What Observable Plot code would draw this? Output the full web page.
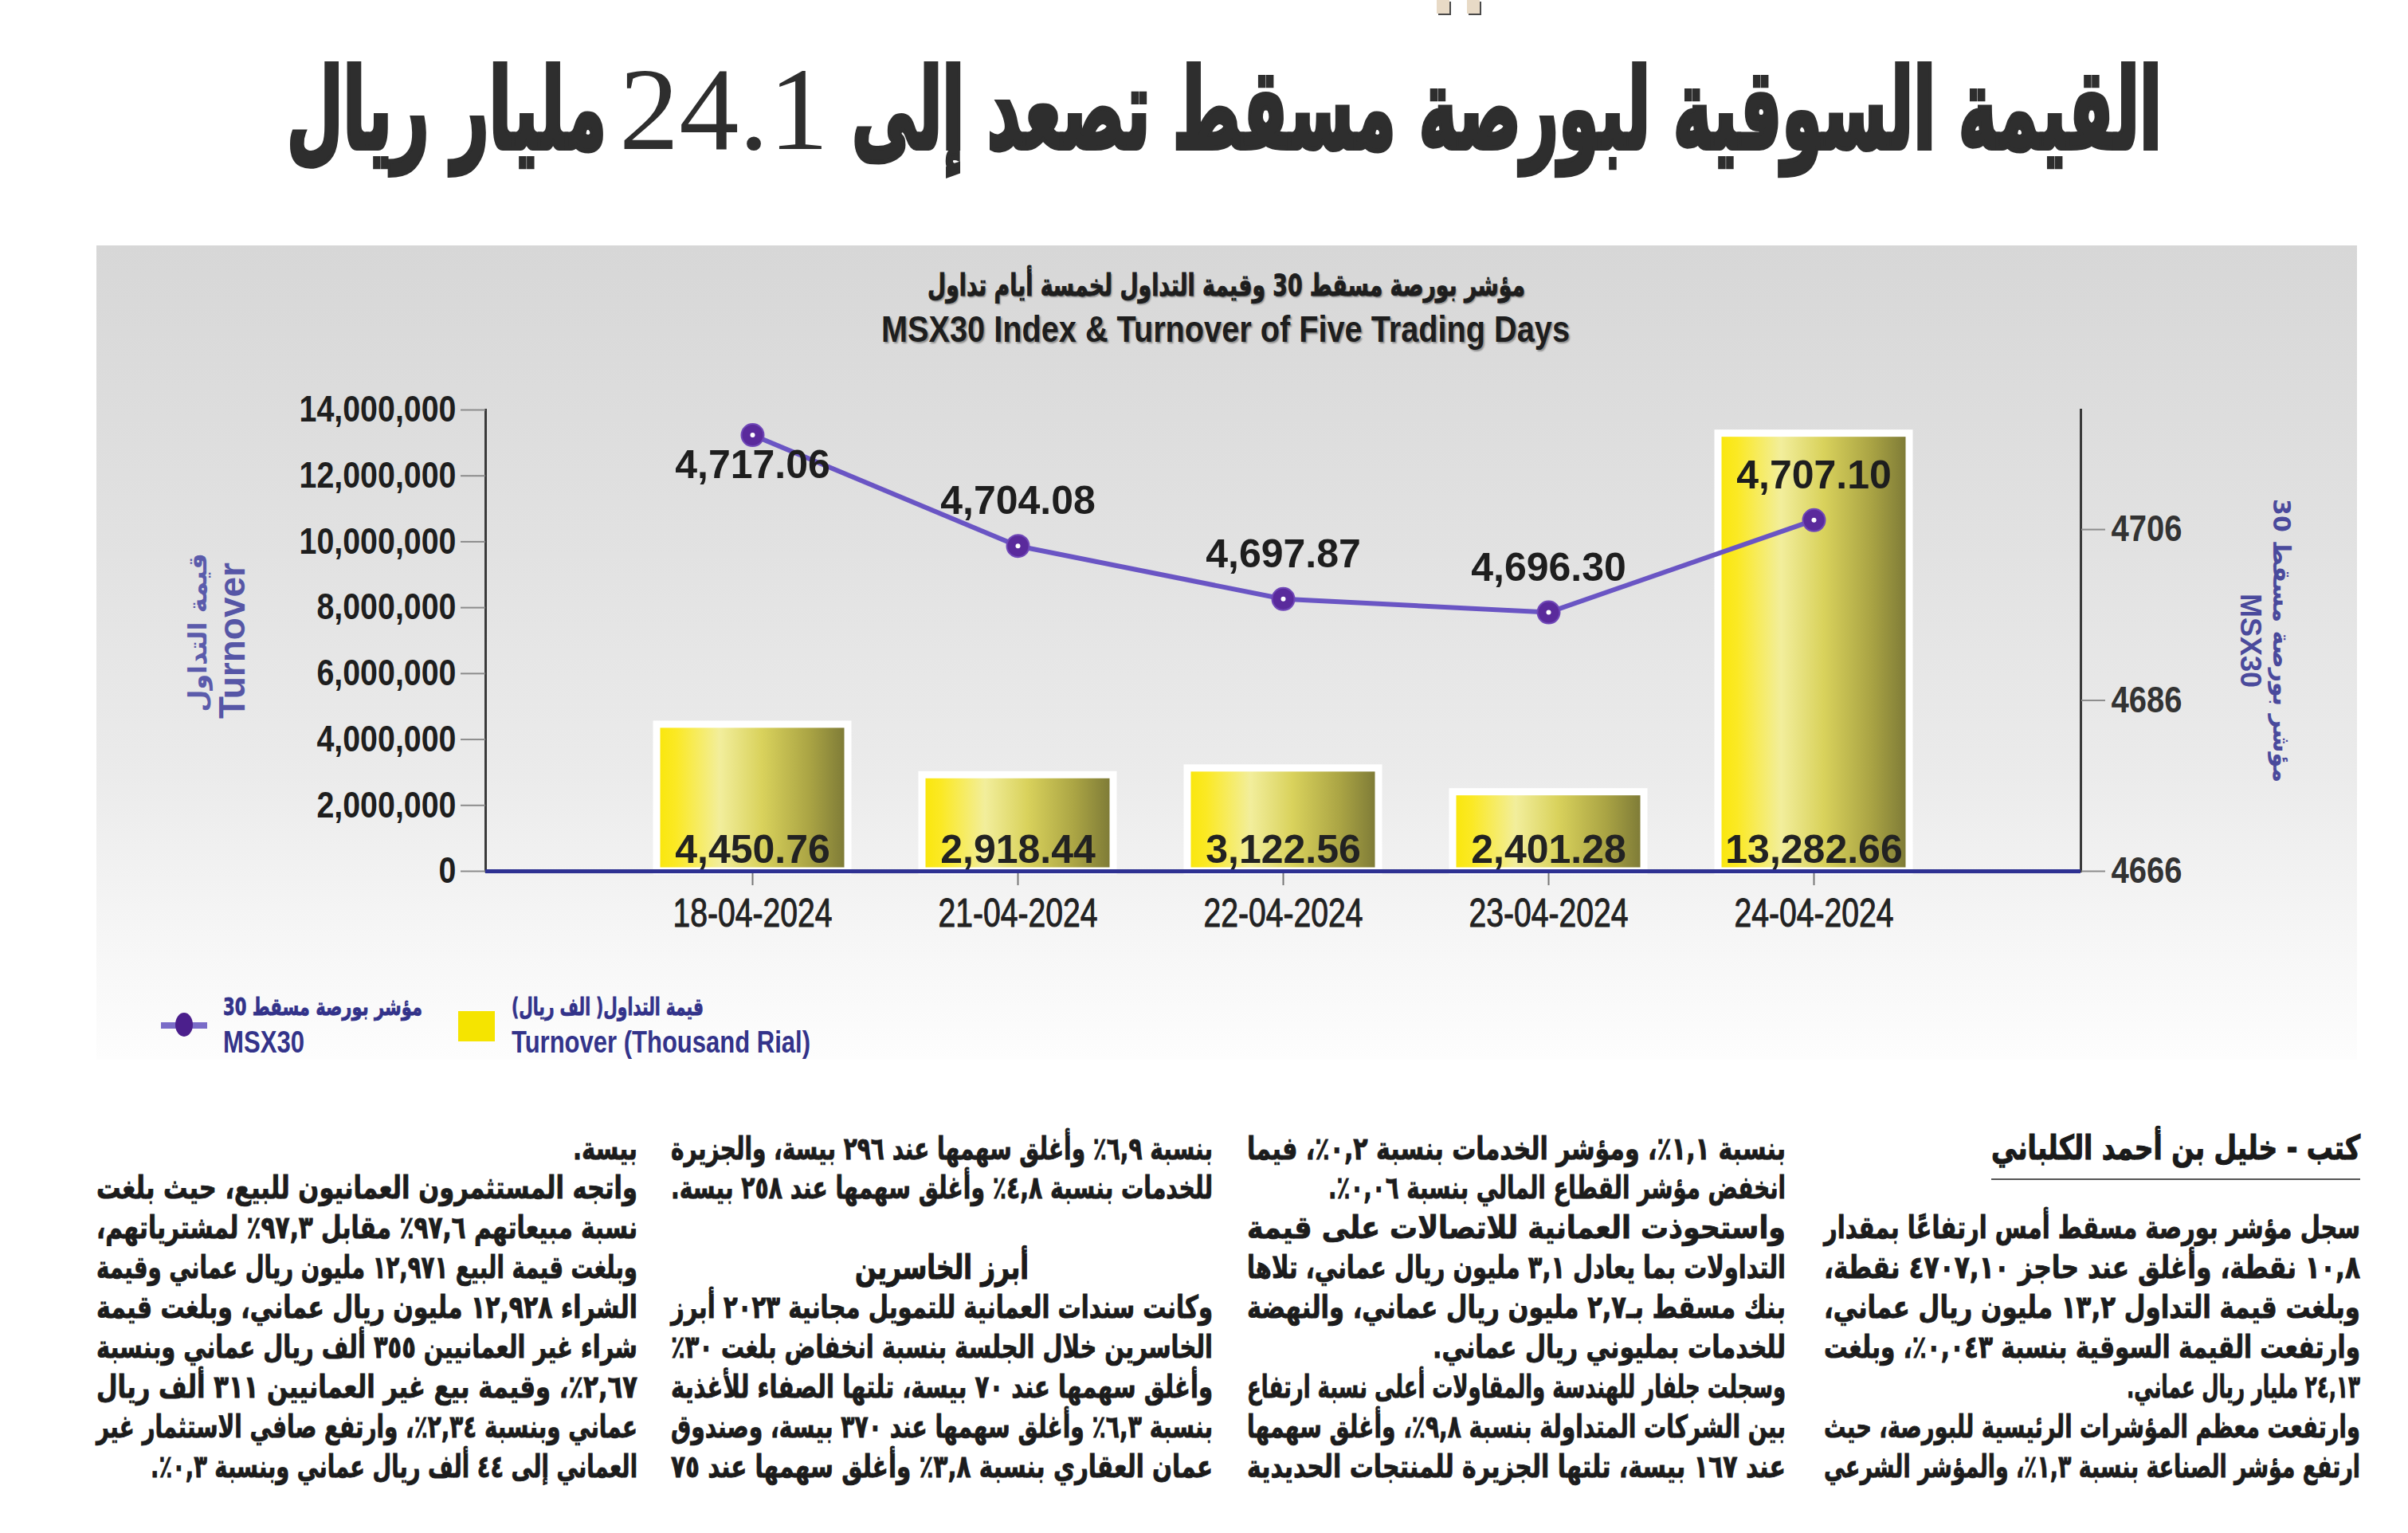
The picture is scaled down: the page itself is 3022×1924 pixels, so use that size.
<!DOCTYPE html>
<html>
<head>
<meta charset="utf-8">
<script src="https://cdn.jsdelivr.net/npm/d3@7"></script>
<script src="https://cdn.jsdelivr.net/npm/@observablehq/plot@0.6"></script>
<style>
html, body { margin: 0; padding: 0; background: #ffffff; overflow: hidden; }
#page { position: relative; width: 3022px; height: 1924px; overflow: hidden; background: #ffffff; }
#panel { position: absolute; left: 121px; top: 308px; width: 2837px; height: 1022px;
  background: linear-gradient(to bottom, #d7d7d7 0%, #e1e1e1 35%, #ebebeb 65%, #f6f6f6 85%, #fdfdfd 100%); }
</style>
</head>
<body>
<div id="page"><div id="panel"></div></div>
<script>
// ---------------- data ----------------
const dates = ["18-04-2024", "21-04-2024", "22-04-2024", "23-04-2024", "24-04-2024"];
const turnover = [4450.76, 2918.44, 3122.56, 2401.28, 13282.66];   // thousand rial
const msx30 = [4717.06, 4704.08, 4697.87, 4696.30, 4707.10];
const leftTicks = [0, 2000000, 4000000, 6000000, 8000000, 10000000, 12000000, 14000000];
const rightTicks = [4666, 4686, 4706];
const leftDomain = [0, 14000000];
const rightDomain = [4666, 4720];

const headlineRight = "القيمة السوقية لبورصة مسقط تصعد إلى";
const headlineNumber = "24.1";
const headlineLeft = "مليار ريال";
const chartTitleAr = "مؤشر بورصة مسقط 30 وقيمة التداول لخمسة أيام تداول";
const chartTitleEn = "MSX30 Index & Turnover of Five Trading Days";
const leftAxisAr = "قيمة التداول";
const leftAxisEn = "Turnover";
const rightAxisAr = "مؤشر بورصة مسقط 30";
const rightAxisEn = "MSX30";
const legendLineAr = "مؤشر بورصة مسقط 30";
const legendLineEn = "MSX30";
const legendBarAr = "قيمة التداول( الف ريال)";
const legendBarEn = "Turnover (Thousand Rial)";

const byline = "كتب - خليل بن أحمد الكلباني";
const col1 = [
  "سجل مؤشر بورصة مسقط أمس ارتفاعًا بمقدار",
  "١٠,٨ نقطة، وأغلق عند حاجز ٤٧٠٧,١٠ نقطة،",
  "وبلغت قيمة التداول ١٣,٢ مليون ريال عماني،",
  "وارتفعت القيمة السوقية بنسبة ٠,٠٤٣٪، وبلغت",
  "٢٤,١٣ مليار ريال عماني.",
  "وارتفعت معظم المؤشرات الرئيسية للبورصة، حيث",
  "ارتفع مؤشر الصناعة بنسبة ١,٣٪، والمؤشر الشرعي"
];
const col2 = [
  "بنسبة ١,١٪، ومؤشر الخدمات بنسبة ٠,٢٪، فيما",
  "انخفض مؤشر القطاع المالي بنسبة ٠,٠٦٪.",
  "واستحوذت العمانية للاتصالات على قيمة",
  "التداولات بما يعادل ٣,١ مليون ريال عماني، تلاها",
  "بنك مسقط بـ٢,٧ مليون ريال عماني، والنهضة",
  "للخدمات بمليوني ريال عماني.",
  "وسجلت جلفار للهندسة والمقاولات أعلى نسبة ارتفاع",
  "بين الشركات المتداولة بنسبة ٩,٨٪، وأغلق سهمها",
  "عند ١٦٧ بيسة، تلتها الجزيرة للمنتجات الحديدية"
];
const col3Top = [
  "بنسبة ٦,٩٪ وأغلق سهمها عند ٢٩٦ بيسة، والجزيرة",
  "للخدمات بنسبة ٤,٨٪ وأغلق سهمها عند ٢٥٨ بيسة."
];
const col3Heading = "أبرز الخاسرين";
const col3Bottom = [
  "وكانت سندات العمانية للتمويل مجانية ٢٠٢٣ أبرز",
  "الخاسرين خلال الجلسة بنسبة انخفاض بلغت ٣٠٪",
  "وأغلق سهمها عند ٧٠ بيسة، تلتها الصفاء للأغذية",
  "بنسبة ٦,٣٪ وأغلق سهمها عند ٣٧٠ بيسة، وصندوق",
  "عمان العقاري بنسبة ٣,٨٪ وأغلق سهمها عند ٧٥"
];
const col4 = [
  "بيسة.",
  "واتجه المستثمرون العمانيون للبيع، حيث بلغت",
  "نسبة مبيعاتهم ٩٧,٦٪ مقابل ٩٧,٣٪ لمشترياتهم،",
  "وبلغت قيمة البيع ١٢,٩٧١ مليون ريال عماني وقيمة",
  "الشراء ١٢,٩٢٨ مليون ريال عماني، وبلغت قيمة",
  "شراء غير العمانيين ٣٥٥ ألف ريال عماني وبنسبة",
  "٢,٦٧٪، وقيمة بيع غير العمانيين ٣١١ ألف ريال",
  "عماني وبنسبة ٢,٣٤٪، وارتفع صافي الاستثمار غير",
  "العماني إلى ٤٤ ألف ريال عماني وبنسبة ٠,٣٪."
];

// ---------------- helpers ----------------
const page = document.getElementById("page");
const AR = "'DejaVu Sans', sans-serif";
const LAT = "'Liberation Sans', Arial, sans-serif";

function placeText(txt, o) {
  const el = document.createElement("div");
  el.textContent = txt;
  const size = o.size;
  const top = o.top != null ? o.top : o.cy - size / 2;
  el.style.cssText = "position:absolute;white-space:nowrap;line-height:1;left:0px;" +
    "font-size:" + size + "px;font-weight:" + (o.weight || "bold") + ";color:" + (o.color || "#222") +
    ";font-family:" + (o.family || AR) + ";direction:" + (o.dir || "rtl") + ";top:" + top + "px;";
  if (o.shadow) el.style.textShadow = o.shadow;
  if (o.stroke) el.style.webkitTextStroke = o.stroke;
  page.appendChild(el);
  let w = el.getBoundingClientRect().width;
  const spaces = (txt.match(/ /g) || []).length;
  if (o.justify && w < o.w && spaces) {
    el.style.wordSpacing = ((o.w - w) / spaces) + "px";
    w = el.getBoundingClientRect().width;
  }
  el.style.transformOrigin = "0 50%";
  el.style.transform = "scaleX(" + (o.w / w) + ")";
  el.style.left = o.x + "px";
  return el;
}
function box(css) {
  const d = document.createElement("div");
  d.style.cssText = "position:absolute;" + css;
  page.appendChild(d);
  return d;
}

// ---------------- headline ----------------
box("left:1803px;top:0;width:16px;height:17px;background:#e8dac6;box-shadow:2px 2px 0 #4a4a4a;");
box("left:1841px;top:0;width:16px;height:17px;background:#e8dac6;box-shadow:2px 2px 0 #4a4a4a;");
placeText(headlineRight, {x: 1069, w: 1644, top: 68, size: 140, color: "#2e2e2e", stroke: "6px #2e2e2e"});
placeText(headlineNumber, {x: 777, w: 263, top: 63, size: 148, weight: "normal", color: "#2e2e2e", family: "'Liberation Serif', serif", dir: "ltr"});
placeText(headlineLeft, {x: 360, w: 401, top: 68, size: 140, color: "#2e2e2e", stroke: "6px #2e2e2e"});

// ---------------- chart titles ----------------
const shadow = "2px 2px 2px rgba(0,0,0,0.35)";
placeText(chartTitleAr, {x: 1164, w: 750, cy: 358, size: 38, color: "#1e1e1e", shadow, stroke: "1px #1e1e1e"});
placeText(chartTitleEn, {x: 1106, w: 864, cy: 413, size: 46, color: "#1e1e1e", family: LAT, dir: "ltr", shadow});

// ---------------- chart ----------------
const rows = dates.map((date, i) => ({date, turnover: turnover[i], msx: msx30[i], first: i === 0}));
const toLeft = v => leftDomain[0] + (v - rightDomain[0]) / (rightDomain[1] - rightDomain[0]) * (leftDomain[1] - leftDomain[0]);
const fromLeft = y => rightDomain[0] + (y - leftDomain[0]) / (leftDomain[1] - leftDomain[0]) * (rightDomain[1] - rightDomain[0]);
const fmt2 = d3.format(",.2f");
const yMsx = d => toLeft(d.msx);

const holder = box("left:121px;top:440px;width:2837px;height:740px;");
const svg = Plot.plot({
  width: 2837, height: 740,
  marginLeft: 488, marginRight: 347, marginTop: 74, marginBottom: 87,
  style: {background: "transparent", fontFamily: LAT, overflow: "visible"},
  x: {type: "band", domain: dates, paddingInner: 0.28, paddingOuter: 0.64},
  y: {domain: leftDomain},
  marks: [
    Plot.barY(rows, {x: "date", y: d => d.turnover * 1000, fill: "url(#barGrad)", stroke: "#ffffff", strokeWidth: 9}),
    Plot.frame({anchor: "left", stroke: "#3a3a3a", strokeWidth: 3}),
    Plot.frame({anchor: "right", stroke: "#3a3a3a", strokeWidth: 3}),
    Plot.axisY({ticks: leftTicks, tickFormat: d3.format(","), tickSize: 31, tickPadding: 6, fontSize: 46, fontWeight: "bold",
      stroke: "#8c8c8c", strokeWidth: 2, fill: "#1e1e1e", label: null}),
    Plot.axisY({anchor: "right", ticks: rightTicks.map(toLeft), tickFormat: d => String(Math.round(fromLeft(d))),
      tickSize: 30, tickPadding: 8, fontSize: 46, fontWeight: "bold", stroke: "#8c8c8c", strokeWidth: 2, fill: "#333333", label: null}),
    Plot.axisX({tickSize: 18, tickPadding: 16, fontSize: 50, stroke: "#777777", strokeWidth: 2, fill: "#222222",
      textStroke: "#222222", textStrokeWidth: 1, label: null}),
    Plot.ruleY([0], {stroke: "#2e3192", strokeWidth: 5}),
    Plot.text(rows, {x: "date", frameAnchor: "bottom", lineAnchor: "middle", text: d => fmt2(d.turnover), dy: -27, fontSize: 50, fontWeight: "bold", fill: "#222222", ariaLabel: "bar-values"}),
    Plot.line(rows, {x: "date", y: yMsx, stroke: "#6a55c4", strokeWidth: 6}),
    Plot.dot(rows, {x: "date", y: yMsx, r: 14, fill: "#5a2a9c", stroke: "#7048b8", strokeWidth: 2}),
    Plot.dot(rows, {x: "date", y: yMsx, r: 3, fill: "#ffffff"}),
    Plot.text(rows, {x: "date", y: yMsx, text: d => fmt2(d.msx), filter: d => d.first, dy: 38, fontSize: 50, fontWeight: "bold", fill: "#1e1e1e", ariaLabel: "msx-values"}),
    Plot.text(rows, {x: "date", y: yMsx, text: d => fmt2(d.msx), filter: d => !d.first, dy: -56, fontSize: 50, fontWeight: "bold", fill: "#1e1e1e", ariaLabel: "msx-values"}),
    Plot.text([leftAxisAr], {text: d => d, frameAnchor: "left", textAnchor: "middle", lineAnchor: "middle", dx: -361, dy: -10, rotate: -90, fontSize: 32, fontWeight: "bold", fill: "#5b5bab", fontFamily: AR}),
    Plot.text([leftAxisEn], {text: d => d, frameAnchor: "left", textAnchor: "middle", lineAnchor: "middle", dx: -317, rotate: -90, fontSize: 46, fontWeight: "bold", fill: "#5656a6"}),
    Plot.text([rightAxisAr], {text: d => d, frameAnchor: "right", textAnchor: "middle", lineAnchor: "middle", dx: 251, rotate: 90, fontSize: 30, fontWeight: "bold", fill: "#4a4a9c", fontFamily: AR}),
    Plot.text([rightAxisEn], {text: d => d, frameAnchor: "right", textAnchor: "middle", lineAnchor: "middle", dx: 212, rotate: 90, fontSize: 36, fontWeight: "bold", fill: "#4a4a9c"})
  ]
});
holder.appendChild(svg);

// gradient for bars
const NS = "http://www.w3.org/2000/svg";
const defs = document.createElementNS(NS, "defs");
const lg = document.createElementNS(NS, "linearGradient");
lg.setAttribute("id", "barGrad");
lg.setAttribute("x1", "0"); lg.setAttribute("y1", "0"); lg.setAttribute("x2", "1"); lg.setAttribute("y2", "0");
[["0%", "#f9e60a"], ["10%", "#fbe924"], ["33%", "#f2ee9c"], ["55%", "#d9d25c"], ["80%", "#aaa444"], ["100%", "#7b7836"]].forEach(([o, c]) => {
  const s = document.createElementNS(NS, "stop");
  s.setAttribute("offset", o); s.setAttribute("stop-color", c);
  lg.appendChild(s);
});
defs.appendChild(lg);
svg.insertBefore(defs, svg.firstChild);

function condense(list, target) {
  const texts = Array.from(list || []);
  if (!texts.length) return;
  const lens = texts.map(t => t.getComputedTextLength());
  const f = target / Math.max(...lens);
  texts.forEach((t, i) => {
    t.setAttribute("textLength", lens[i] * f);
    t.setAttribute("lengthAdjust", "spacingAndGlyphs");
  });
}
const yGroups = svg.querySelectorAll('g[aria-label="y-axis tick label"]');
if (yGroups[0]) condense(yGroups[0].querySelectorAll("text"), 197);
if (yGroups[1]) condense(yGroups[1].querySelectorAll("text"), 89);
condense(svg.querySelectorAll('g[aria-label="x-axis tick label"] text'), 200);
condense(svg.querySelectorAll('g[aria-label="bar-values"] text'), 164);
condense(svg.querySelectorAll('g[aria-label="msx-values"] text'), 150);

// ---------------- legend ----------------
box("left:202px;top:1283px;width:58px;height:8px;background:#7a6cc8;");
box("left:220px;top:1271px;width:22px;height:30px;border-radius:50%;background:#4b1f8c;");
box("left:575px;top:1269px;width:46px;height:38px;background:#f5e400;");
const legendColor = "#33338a";
placeText(legendLineAr, {x: 280, w: 250, cy: 1264, size: 30, color: legendColor, stroke: "0.8px " + legendColor});
placeText(legendLineEn, {x: 280, w: 102, cy: 1308, size: 38, color: legendColor, family: LAT, dir: "ltr"});
placeText(legendBarAr, {x: 642, w: 241, cy: 1264, size: 30, color: legendColor, stroke: "0.8px " + legendColor});
placeText(legendBarEn, {x: 642, w: 375, cy: 1308, size: 38, color: legendColor, family: LAT, dir: "ltr"});

// ---------------- article columns ----------------
const colBoxes = [{x: 2289, w: 673}, {x: 1565, w: 676}, {x: 842, w: 680}, {x: 121, w: 679}];
const rowY = r => 1441 + r * 49.9;
const bodySize = 39, bodyColor = "#1c1c1c", bodyStroke = "0.9px #1c1c1c";
const shortW = {"0-4": 293, "1-1": 574, "1-5": 443, "3-0": 81, "3-8": 611};

function bodyLine(ci, li, row, txt) {
  const c = colBoxes[ci];
  const key = ci + "-" + li;
  if (shortW[key]) {
    placeText(txt, {x: c.x + c.w - shortW[key], w: shortW[key], cy: rowY(row), size: bodySize, color: bodyColor, stroke: bodyStroke});
  } else {
    placeText(txt, {x: c.x, w: c.w, cy: rowY(row), size: bodySize, color: bodyColor, stroke: bodyStroke, justify: true});
  }
}
// column 1
placeText(byline, {x: 2499, w: 463, cy: rowY(0), size: 42, color: "#1a1a1a", stroke: "1.2px #1a1a1a"});
box("left:2499px;top:1479px;width:463px;height:2px;background:#555555;");
col1.forEach((t, i) => bodyLine(0, i, i + 2, t));
// column 2
col2.forEach((t, i) => bodyLine(1, i, i, t));
// column 3
col3Top.forEach((t, i) => bodyLine(2, "t" + i, i, t));
placeText(col3Heading, {x: 1073, w: 218, cy: rowY(3), size: 42, color: "#1a1a1a", stroke: "1.2px #1a1a1a"});
col3Bottom.forEach((t, i) => bodyLine(2, "b" + i, i + 4, t));
// column 4
col4.forEach((t, i) => bodyLine(3, i, i, t));
</script>
</body>
</html>
